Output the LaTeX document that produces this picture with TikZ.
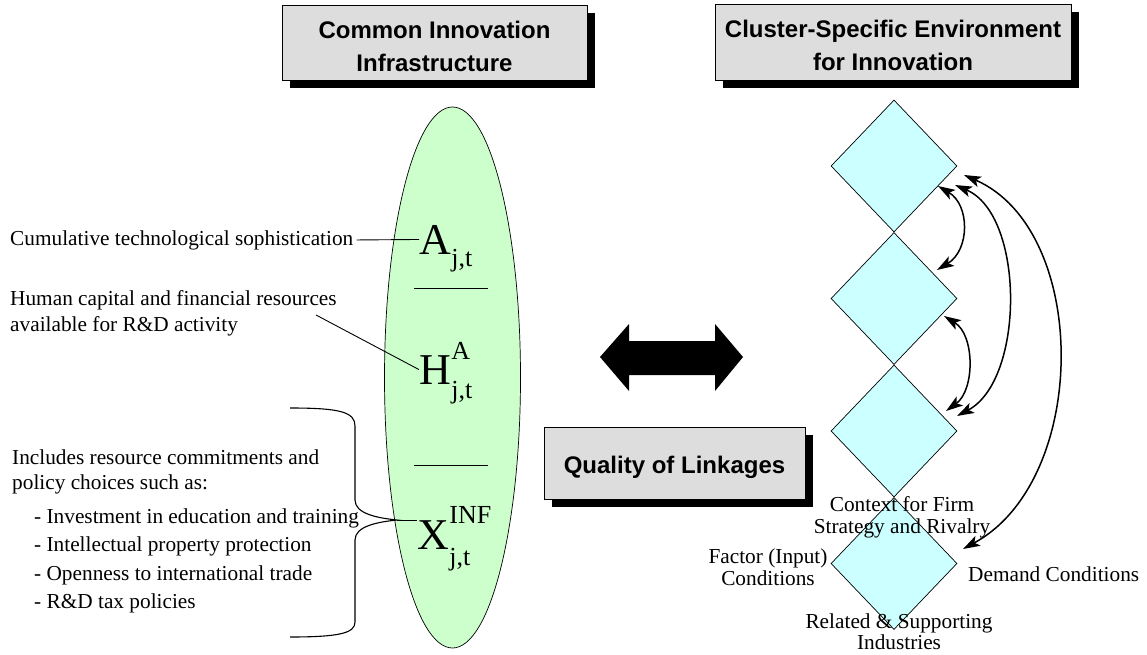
\documentclass[tikz,border=0pt]{standalone}
\usepackage{fontspec}
\setmainfont{Liberation Serif}
\newfontfamily\arialfont{Liberation Sans}
\usetikzlibrary{shapes.geometric,arrows.meta,shadows}
\definecolor{boxgray}{RGB}{221,221,221}
\definecolor{ellgreen}{RGB}{204,255,204}
\definecolor{diacyan}{RGB}{204,255,255}
\begin{document}
\begin{tikzpicture}[x=1pt,y=-1pt,
  titlebox/.style={draw=black, line width=0.8pt, fill=boxgray, inner sep=0pt,
    drop shadow={shadow xshift=8pt, shadow yshift=-8pt, opacity=1, fill=black}},
  titletext/.style={align=center, inner sep=0pt, yshift=-3.5pt,
    font=\arialfont\bfseries\fontsize{24}{33}\selectfont},
  body/.style={font=\fontsize{21.3}{24}\selectfont, inner sep=0pt},
  bigletter/.style={font=\fontsize{44}{44}\selectfont, inner sep=0pt, anchor=base west},
  scriptletter/.style={font=\fontsize{26}{26}\selectfont, inner sep=0pt, anchor=base west},
  diamondbox/.style={diamond, draw=black, line width=0.7pt, fill=diacyan, minimum width=126pt, minimum height=132pt, inner sep=0pt},
  linkarrow/.style={line width=1.5pt, {Stealth[length=17pt,width=11pt,inset=4pt]}-{Stealth[length=17pt,width=11pt,inset=4pt]}},
  thinline/.style={line width=0.9pt}
]
\useasboundingbox (0,0) rectangle (1147,655);

% title boxes
\node[titlebox, minimum width=305pt, minimum height=75pt] (cii) at (434.5,42.5) {};
\node[titletext] (ciit) at (cii) {Common Innovation\\Infrastructure};
\node[titlebox, minimum width=356pt, minimum height=76pt] (cse) at (893,42) {};
\node[titletext] (cset) at (cse) {Cluster-Specific Environment\\for Innovation};
\node[titlebox, minimum width=261pt, minimum height=72pt] (qol) at (674.5,463) {};
\node[titletext, yshift=-1pt] (qolt) at (qol) {Quality of Linkages};

% ellipse
\node[ellipse, draw=black, line width=0.7pt, fill=ellgreen, minimum width=136pt, minimum height=541pt, inner sep=0pt] (ell) at (452.5,377.5) {};

% variables
\node[bigletter] (A) at (419,254) {A};
\node[scriptletter, yshift=-12pt] (Asub) at (A.base east) {j,t};
\node[bigletter] (H) at (419,384) {H};
\node[scriptletter, yshift=25pt] (Hsup) at (H.base east) {A};
\node[scriptletter, yshift=-14pt] (Hsub) at (H.base east) {j,t};
\node[bigletter] (X) at (417,549) {X};
\node[scriptletter, yshift=26pt] (Xsup) at (X.base east) {INF};
\node[scriptletter, yshift=-16pt] (Xsub) at (X.base east) {j,t};

% separators
\coordinate (s1a) at (414,288); \coordinate (s1b) at (488,288);
\coordinate (s2a) at (414,465); \coordinate (s2b) at (488,465);
\draw[thinline] (s1a) -- (s1b);
\draw[thinline] (s2a) -- (s2b);

% left texts
\node[body, anchor=west] (cum) at (10,240) {Cumulative technological sophistication};
\node[body, anchor=west, align=left, font=\fontsize{21.3}{26}\selectfont] (hum) at (10,313) {Human capital and financial resources\\available for R\&D activity};
\node[body, anchor=west, align=left, font=\fontsize{21.3}{24.5}\selectfont] (inc) at (12,472) {Includes resource commitments and\\policy choices such as:};
\node[body, anchor=west, align=left, font=\fontsize{21.3}{28.5}\selectfont] (lst) at (34,561) {- Investment in education and training\\- Intellectual property protection\\- Openness to international trade\\- R\&D tax policies};

\draw[thinline, shorten <=3pt] (cum.east) -- (A.west);
\coordinate (hs) at (316,315);
\draw[thinline] (hs) -- (H.west);

% brace
\coordinate (bt) at (290,408);
\coordinate (tip) at (397,520);
\coordinate (bb) at (290,637);
\draw[line width=1.1pt] (bt) .. controls (340,408) and (355,412) .. (355,426) -- (355,500)
  .. controls (355,514) and (378,518) .. (tip)
  .. controls (378,522) and (355,526) .. (355,540) -- (355,622)
  .. controls (355,633) and (340,637) .. (bb);
\draw[thinline] (tip) -- (X.west |- tip);

% double arrow
\fill[black] (600,357) -- (629,324) -- (629,341) -- (715,341) -- (715,324) -- (743,357)
  -- (715,391) -- (715,375) -- (629,375) -- (629,391) -- cycle;

% diamonds
\node[diamondbox] (d1) at (894,166) {};
\node[diamondbox] (d2) at (894,298.5) {};
\node[diamondbox] (d3) at (894,431) {};
\node[diamondbox] (d4) at (894,563.5) {};

% diamond labels
\node[body, align=center, font=\fontsize{21.3}{22}\selectfont] (ctx) at (902,517) {Context for Firm\\Strategy and Rivalry};
\node[body, align=center, font=\fontsize{21.3}{22}\selectfont] (fac) at (768,567) {Factor (Input)\\Conditions};
\node[body, anchor=west] (dem) at (968,574) {Demand Conditions};
\node[body, align=center, font=\fontsize{21.3}{21}\selectfont] (rel) at (899,632) {Related \& Supporting\\Industries};

% curved arrows
\coordinate (a1s) at (938,186); \coordinate (a1e) at (937,270);
\coordinate (a2s) at (944,316); \coordinate (a2e) at (946,411);
\coordinate (a3s) at (955,185); \coordinate (a3e) at (957,416);
\coordinate (a4s) at (964,175); \coordinate (a4e) at (963,549);
\draw[linkarrow] (a1s) .. controls (970,205) and (970,250) .. (a1e);
\draw[linkarrow] (a2s) .. controls (975,335) and (975,390) .. (a2e);
\draw[linkarrow] (a3s) .. controls (1025,215) and (1025,380) .. (a3e);
\draw[linkarrow] (a4s) .. controls (1090,230) and (1090,480) .. (a4e);
\end{tikzpicture}
\end{document}
